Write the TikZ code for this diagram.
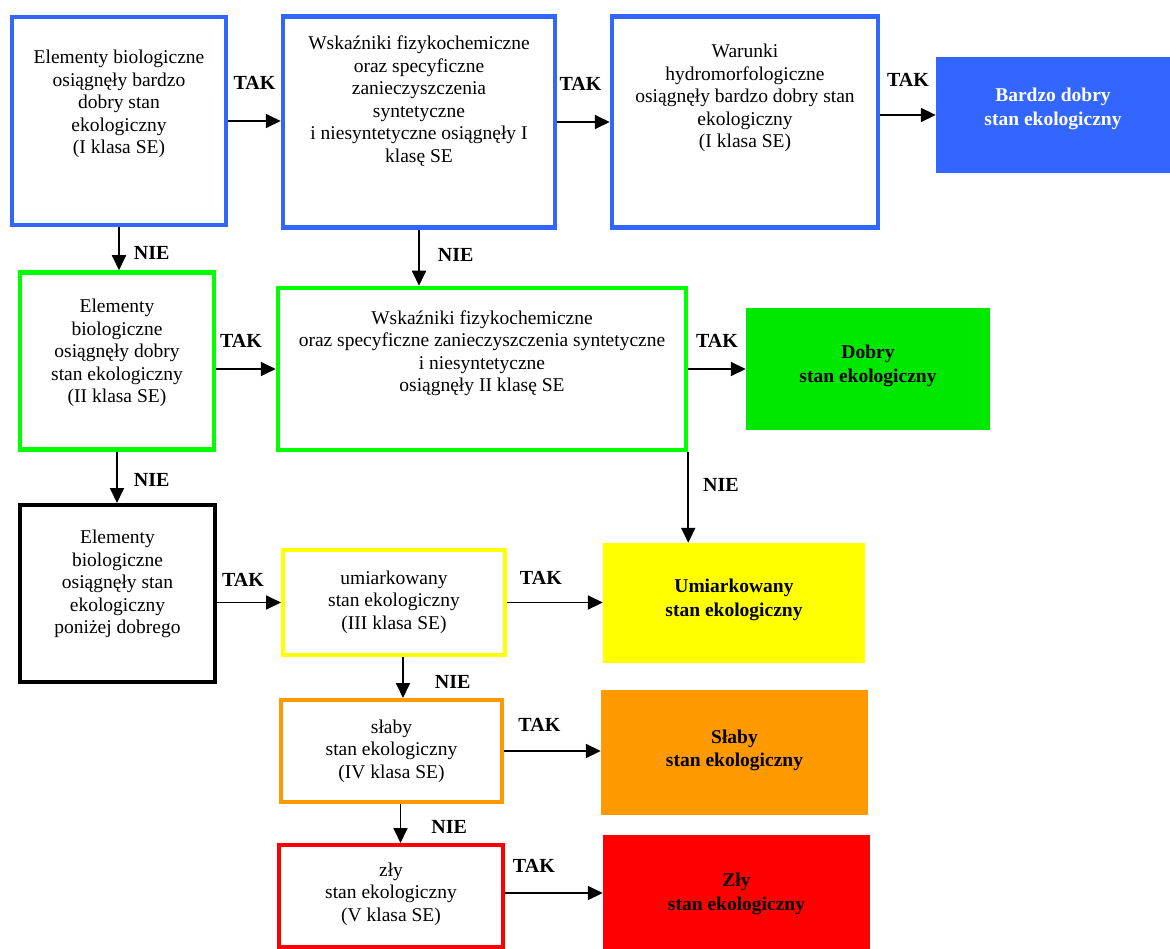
\documentclass[tikz,border=0pt]{standalone}
\usepackage{fontspec}
\setmainfont{Liberation Serif}
\usepackage{tikz}
\usetikzlibrary{arrows.meta,positioning}

\definecolor{sebl}{RGB}{51,102,255}
\definecolor{segr}{RGB}{0,255,0}
\definecolor{segrf}{RGB}{0,232,0}
\definecolor{seye}{RGB}{255,255,0}
\definecolor{seor}{RGB}{255,153,0}
\definecolor{sere}{RGB}{255,0,0}

\begin{document}
\begin{tikzpicture}[x=1pt,y=-1pt,
    font=\fontsize{19.5}{22.5}\selectfont,
    box/.style={draw=#1, line width=4.5pt, fill=white, inner sep=0pt},
    res/.style={fill=#1, inner sep=0pt},
    txt/.style={align=center, inner sep=0pt},
    btxt/.style={txt, font=\fontsize{19.5}{23.5}\selectfont\bfseries},
    lbl/.style={font=\fontsize{20}{22}\selectfont\bfseries, inner sep=0pt},
    arr/.style={-{Triangle[length=15pt,width=14pt]}, line width=1.8pt}]
				\useasboundingbox (0,0) rectangle (1170,949);
				% klasa I
				\node[box=sebl, minimum width=214pt, minimum height=208pt] (bioI) at (119,121) {};
				\node[box=sebl, minimum width=272pt, minimum height=211pt] (fchI) at (419,122) {};
				\node[box=sebl, minimum width=266pt, minimum height=211pt] (hydI) at (745,122) {};
				\node[res=sebl, minimum width=240pt, minimum height=116pt] (bdobry) at (1056,115) {};
				\node[txt] (bioIt) at (119,104) {Elementy biologiczne\\osiągnęły bardzo\\dobry stan\\ekologiczny\\(I klasa SE)};
				\node[txt] (fchIt) at (419,101) {Wskaźniki fizykochemiczne\\oraz specyficzne\\zanieczyszczenia\\syntetyczne\\i niesyntetyczne osiągnęły I\\klasę SE};
				\node[txt] (hydIt) at (745,98) {Warunki\\hydromorfologiczne\\osiągnęły bardzo dobry stan\\ekologiczny\\(I klasa SE)};
				\node[btxt, text=white] (bdobryt) at (1053,109) {Bardzo dobry\\stan ekologiczny};
				% klasa II
				\node[box=segr, minimum width=194pt, minimum height=177pt] (bioII) at (117,361) {};
				\node[box=segr, minimum width=408pt, minimum height=162pt] (fchII) at (482,369) {};
				\node[res=segrf, minimum width=244pt, minimum height=122pt] (dobry) at (868,369) {};
				\node[txt] (bioIIt) at (117,353) {Elementy\\biologiczne\\osiągnęły dobry\\stan ekologiczny\\(II klasa SE)};
				\node[txt] (fchIIt) at (482,353) {Wskaźniki fizykochemiczne\\oraz specyficzne zanieczyszczenia syntetyczne\\i niesyntetyczne\\osiągnęły II klasę SE};
				\node[btxt] (dobryt) at (868,366) {Dobry\\stan ekologiczny};
				% ponizej dobrego
				\node[box=black, line width=4pt, minimum width=195pt, minimum height=177pt] (bioIII) at (117.5,593.5) {};
				\node[txt] (bioIIIt) at (117.5,584) {Elementy\\biologiczne\\osiągnęły stan\\ekologiczny\\poniżej dobrego};
				\node[box=seye, line width=4pt, minimum width=222pt, minimum height=105pt] (umI) at (394,602.5) {};
				\node[res=seye, minimum width=262pt, minimum height=120pt] (umiar) at (734,603) {};
				\node[box=seor, line width=4pt, minimum width=221pt, minimum height=102pt] (slI) at (391.5,751) {};
				\node[res=seor, minimum width=267pt, minimum height=125pt] (slaby) at (734.5,752.5) {};
				\node[box=sere, line width=4pt, minimum width=224pt, minimum height=102pt] (zlI) at (391,896) {};
				\node[res=sere, minimum width=267pt, minimum height=116pt] (zly) at (736.5,893) {};
				\node[txt] (umIt) at (394,602) {umiarkowany\\stan ekologiczny\\(III klasa SE)};
				\node[btxt] (umiart) at (734,600) {Umiarkowany\\stan ekologiczny};
				\node[txt] (slIt) at (391.5,751) {słaby\\stan ekologiczny\\(IV klasa SE)};
				\node[btxt] (slabyt) at (734.5,750.5) {Słaby\\stan ekologiczny};
				\node[txt] (zlIt) at (391,894) {zły\\stan ekologiczny\\(V klasa SE)};
				\node[btxt] (zlyt) at (736.5,894) {Zły\\stan ekologiczny};
				% TAK
				\draw[arr] (bioI.east) -- (bioI.east -| fchI.west) node[lbl, midway, above=31pt] {TAK};
				\draw[arr] (fchI.east) -- (fchI.east -| hydI.west) node[lbl, midway, above=31pt, xshift=-3pt] {TAK};
				\draw[arr] (hydI.east |- bdobry.west) -- (bdobry.west) node[lbl, midway, above=28pt] {TAK};
				\draw[arr] (bioII.east |- fchII.west) -- (fchII.west) node[lbl, midway, above=21pt, xshift=-5pt] {TAK};
				\draw[arr] (fchII.east |- dobry.west) -- (dobry.west) node[lbl, midway, above=21pt] {TAK};
				\draw[arr] (bioIII.east |- umI.west) -- (umI.west) node[lbl, midway, above=15pt, xshift=-6pt] {TAK};
				\draw[arr] (umI.east) -- (umI.east -| umiar.west) node[lbl, midway, above=17pt, xshift=-14pt] {TAK};
				\draw[arr] (slI.east) -- (slI.east -| slaby.west) node[lbl, midway, above=19pt, xshift=-13pt] {TAK};
				\draw[arr] (zlI.east |- zly.west) -- (zly.west) node[lbl, midway, above=20pt, xshift=-20pt] {TAK};
				% NIE
				\draw[arr] (bioI.south) -- (bioI.south |- bioII.north) node[lbl, pos=.6, right=14pt] {NIE};
				\draw[arr] (fchI.south) -- (fchI.south |- fchII.north) node[lbl, pos=.45, right=18pt] {NIE};
				\draw[arr] (bioII.south) -- (bioII.south |- bioIII.north) node[lbl, pos=.55, right=16pt] {NIE};
				\draw[arr] (fchII.south east) -- (fchII.south east |- umiar.north) node[lbl, pos=.36, right=14pt] {NIE};
				\draw[arr] ([xshift=9pt]umI.south) -- ([xshift=9pt]umI.south |- slI.north) node[lbl, pos=.6, right=31pt] {NIE};
				\draw[arr] ([xshift=9pt]slI.south) -- ([xshift=9pt]slI.south |- zlI.north) node[lbl, pos=.6, right=30pt] {NIE};
				\end{tikzpicture}
\end{document}
